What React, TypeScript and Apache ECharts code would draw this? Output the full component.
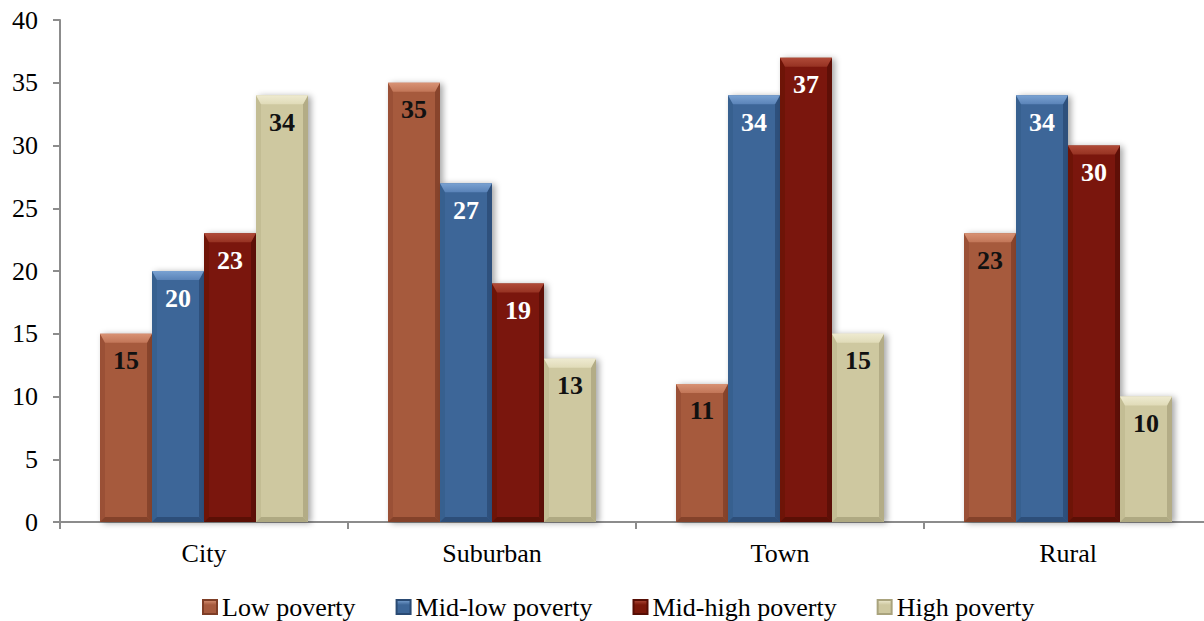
import React, { useEffect, useRef } from "react";
import * as echarts from "echarts";

// Locales along the x axis
const categories = ["City", "Suburban", "Town", "Rural"];

// Share of schools (percent) in each poverty group
const seriesNames = ["Low poverty", "Mid-low poverty", "Mid-high poverty", "High poverty"];
const lowPoverty = [15, 35, 11, 23];
const midLowPoverty = [20, 27, 34, 34];
const midHighPoverty = [23, 19, 37, 30];
const highPoverty = [34, 13, 15, 10];

const yTicks = { min: 0, max: 40, interval: 5 };

const titleText = "Share of schools at each poverty level (2009-10)";

type Palette = { main: string; light: string; lighter: string; dark: string; side: string; label: string };

const palettes: Palette[] = [
  { main: "#A65A3E", light: "#C27658", lighter: "#D89274", dark: "#7E3E27", side: "#9A5036", label: "#111111" },
  { main: "#3D6698", light: "#5A83B8", lighter: "#7AA2D2", dark: "#2A4A73", side: "#37608F", label: "#FFFFFF" },
  { main: "#7A180A", light: "#963222", lighter: "#B04A38", dark: "#560E05", side: "#6E1407", label: "#FFFFFF" },
  { main: "#CEC8A0", light: "#E0DBB8", lighter: "#EEEAD0", dark: "#A9A37D", side: "#C3BD94", label: "#111111" },
];

const GROUP_FILL = 1 - 80 / 288; // share of each category occupied by its bar group

const serif = "Liberation Serif";

function makeRenderItem(idx: number, count: number, p: Palette) {
  return (_params: any, api: any) => {
    const cat = api.value(0);
    const val = api.value(1);
    const base = api.coord([cat, 0]);
    const top = api.coord([cat, val]);
    const catW = api.size([1, 0])[0];
    const groupW = catW * GROUP_FILL;
    const w = groupW / count;
    const x = base[0] - groupW / 2 + idx * w;
    const y = top[1];
    const y0 = base[1];
    const h = y0 - y;
    const b = 9; // top chamfer depth
    const s = 5; // side chamfer width
    return {
      type: "group",
      children: [
        {
          type: "rect",
          shape: { x, y, width: w, height: h },
          style: {
            fill: p.main,
            shadowBlur: 6,
            shadowOffsetX: 3,
            shadowOffsetY: 1,
            shadowColor: "rgba(0,0,0,0.35)",
          },
        },
        {
          type: "polygon",
          shape: { points: [[x, y], [x + s, y + b], [x + s, y0 - s], [x, y0]] },
          style: { fill: p.side },
        },
        {
          type: "polygon",
          shape: { points: [[x + w, y], [x + w - s, y + b], [x + w - s, y0 - s], [x + w, y0]] },
          style: { fill: p.dark, opacity: 0.75 },
        },
        {
          type: "polygon",
          shape: { points: [[x, y0], [x + s, y0 - s], [x + w - s, y0 - s], [x + w, y0]] },
          style: { fill: p.dark, opacity: 0.85 },
        },
        {
          type: "polygon",
          shape: { points: [[x, y], [x + w, y], [x + w - s, y + b], [x + s, y + b]] },
          style: {
            fill: new echarts.graphic.LinearGradient(0, 0, 0, 1, [
              { offset: 0, color: p.lighter },
              { offset: 1, color: p.light },
            ]),
          },
        },
        {
          type: "text",
          x: x + w / 2,
          y: y + 27,
          style: {
            text: String(val),
            fill: p.label,
            fontFamily: serif,
            fontWeight: "bold",
            fontSize: 26,
            align: "center",
            verticalAlign: "middle",
          },
        },
      ],
    };
  };
}

export default function App() {
  const ref = useRef<HTMLDivElement>(null);

  useEffect(() => {
    if (!ref.current) return;
    const chart = echarts.init(ref.current, undefined, { renderer: "svg" });
    const allValues = [lowPoverty, midLowPoverty, midHighPoverty, highPoverty];

    const series = allValues.map((vals, i) => ({
      type: "custom",
      name: seriesNames[i],
      renderItem: makeRenderItem(i, allValues.length, palettes[i]),
      encode: { x: 0, y: 1 },
      data: vals.map((v, c) => [c, v]),
      itemStyle: {
        color: new echarts.graphic.LinearGradient(0, 0, 0, 1, [
          { offset: 0, color: palettes[i].lighter },
          { offset: 0.35, color: palettes[i].main },
          { offset: 1, color: palettes[i].main },
        ]),
        borderColor: palettes[i].dark,
        borderWidth: 1,
      },
    }));

    chart.setOption({
      animation: false,
      backgroundColor: "#FFFFFF",
      grid: {
        left: 60,
        width: 1152,
        top: 20,
        bottom: 99,
        containLabel: false,
        outerBoundsMode: "none",
      },
      graphic: [
        {
          type: "text",
          right: 239,
          top: -32,
          style: {
            text: titleText,
            fill: "#000000",
            fontFamily: "Liberation Sans",
            fontWeight: "bold",
            fontSize: 30,
          },
        },
      ],
      legend: {
        data: seriesNames,
        left: 197,
        top: 589,
        icon: "rect",
        itemWidth: 14,
        itemHeight: 14,
        itemGap: 40,
        textStyle: { fontFamily: serif, fontSize: 26, color: "#000000", lineHeight: 26 },
      },
      xAxis: {
        type: "category",
        data: categories,
        axisLine: { lineStyle: { color: "#8C8C8C", width: 2 } },
        axisTick: { show: true, length: 7, lineStyle: { color: "#8C8C8C", width: 2 } },
        axisLabel: { fontFamily: serif, fontSize: 26, color: "#000000", margin: 18 },
        splitLine: { show: false },
      },
      yAxis: {
        type: "value",
        min: yTicks.min,
        max: yTicks.max,
        interval: yTicks.interval,
        axisLine: { show: true, lineStyle: { color: "#8C8C8C", width: 2 } },
        axisTick: { show: true, length: 7, lineStyle: { color: "#8C8C8C", width: 2 } },
        axisLabel: { fontFamily: serif, fontSize: 26, color: "#000000", margin: 22 },
        splitLine: { show: false },
      },
      series,
    });

    return () => chart.dispose();
  }, []);

  return (
    <div
      ref={ref}
      style={{ position: "fixed", left: 0, top: 0, width: 1204, height: 621 }}
    />
  );
}
